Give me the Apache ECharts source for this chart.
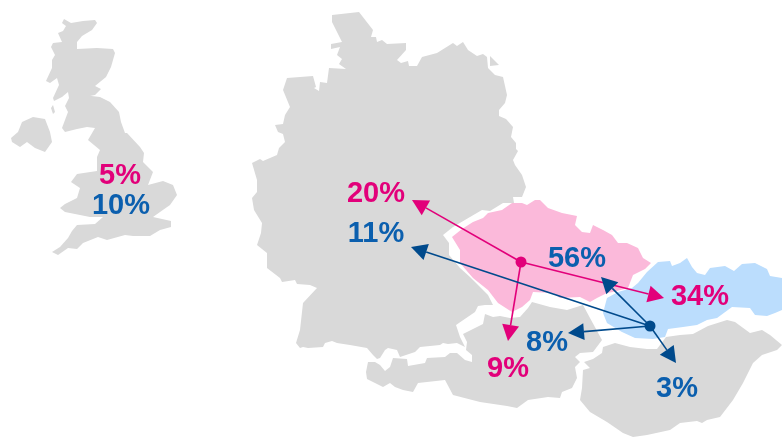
<!DOCTYPE html>
<html><head><meta charset="utf-8">
<style>html,body{margin:0;padding:0;background:#fff}#c{width:782px;height:437px}</style>
<script src="https://cdn.jsdelivr.net/npm/echarts@6/dist/echarts.min.js"></script>
</head><body><div id="c"></div>
<script>
// Country outlines, in picture units
const britain=[[64,19],[71,23],[83,21],[95,20],[97,23],[92,30],[82,36],[77,42],[77,49],[97,48],[113,49],[115,53],[111,67],[106,77],[95,86],[101,89],[95,95],[90,96],[83,95],[100,97],[110,102],[119,112],[121,122],[125,133],[127,133],[140,147],[144,153],[143,162],[153,172],[148,185],[163,181],[173,185],[177,195],[170,205],[160,212],[153,217],[171,221],[171,227],[160,230],[150,236],[133,236],[125,235],[107,240],[98,237],[83,243],[77,249],[68,248],[58,255],[52,252],[60,247],[68,238],[72,231],[77,225],[95,224],[103,217],[90,217],[80,215],[65,212],[60,208],[65,204],[77,198],[80,188],[71,182],[77,174],[97,171],[97,157],[100,150],[88,140],[95,128],[87,127],[77,129],[65,132],[62,128],[68,112],[65,106],[69,98],[68,92],[62,97],[54,101],[53,98],[59,85],[57,78],[50,83],[46,81],[52,68],[52,60],[55,55],[51,47],[53,43],[62,42],[58,33],[63,31],[66,26],[62,23]];
const isleOfMan=[[51,108],[53,105],[55,112],[53,114]];
const ireland=[[22,122],[33,117],[45,119],[50,132],[52,142],[45,152],[35,148],[27,142],[20,147],[12,142],[11,138],[18,132]];
const germany=[[332,15],[359,12],[373,30],[371,37],[376,37],[377,42],[382,40],[387,44],[406,43],[406,50],[397,60],[401,63],[408,61],[409,66],[417,66],[422,57],[437,53],[453,43],[457,46],[463,42],[468,50],[477,56],[483,54],[487,57],[488,68],[495,75],[503,77],[507,95],[505,103],[499,110],[499,116],[506,119],[513,127],[511,137],[516,143],[516,149],[518,151],[513,160],[515,165],[522,175],[526,187],[522,197],[513,197],[514,203],[503,203],[490,211],[482,210],[470,217],[453,227],[443,235],[449,243],[449,255],[460,268],[470,277],[488,295],[493,305],[485,305],[478,306],[475,312],[456,325],[460,337],[465,347],[457,343],[448,344],[443,343],[440,345],[420,347],[415,352],[400,357],[397,350],[388,348],[385,350],[380,358],[377,359],[373,355],[367,348],[350,345],[337,343],[332,341],[325,343],[323,347],[308,348],[303,347],[300,348],[296,343],[300,330],[303,303],[317,288],[310,285],[297,284],[295,280],[282,282],[280,278],[267,268],[267,253],[257,245],[261,233],[262,223],[254,210],[252,198],[257,192],[257,180],[252,163],[260,159],[263,161],[277,155],[279,148],[285,142],[283,134],[278,132],[275,125],[283,124],[285,115],[290,107],[283,90],[287,78],[313,76],[316,87],[314,88],[319,91],[320,82],[327,83],[329,68],[346,69],[339,64],[342,59],[337,55],[340,47],[331,49],[331,44],[342,42],[332,22]];
const ruegen=[[490,56],[499,65],[490,66]];
const austria=[[463,334],[483,324],[485,314],[493,317],[500,316],[510,318],[520,317],[528,308],[532,302],[550,307],[567,310],[583,305],[590,318],[602,340],[593,352],[580,353],[575,357],[580,362],[575,367],[577,378],[572,388],[562,392],[560,398],[548,397],[528,400],[517,408],[507,406],[480,402],[453,395],[445,380],[418,383],[413,392],[403,390],[395,387],[390,383],[383,387],[375,383],[367,379],[366,372],[368,362],[375,362],[380,365],[385,371],[390,367],[393,358],[407,359],[408,366],[425,363],[427,358],[445,357],[450,353],[457,353],[465,360],[472,362],[472,355],[466,350],[467,342]];
const hungary=[[593,359],[602,353],[603,347],[615,343],[630,347],[647,349],[657,349],[666,337],[680,335],[693,334],[708,326],[727,320],[735,322],[750,333],[762,330],[770,335],[782,345],[777,350],[762,355],[753,363],[743,383],[733,400],[720,417],[707,420],[702,423],[697,421],[680,423],[670,430],[647,435],[633,437],[623,433],[607,422],[590,412],[580,400],[582,388],[583,370],[590,368],[584,362]];
const czechia=[[452,237],[462,229],[473,222],[483,218],[488,213],[502,210],[512,203],[522,203],[527,205],[535,200],[540,200],[548,208],[562,213],[577,216],[575,225],[582,232],[590,233],[593,225],[603,230],[612,235],[618,243],[627,243],[638,248],[643,258],[651,263],[645,269],[633,275],[628,288],[613,292],[607,293],[597,298],[590,302],[580,297],[560,298],[553,293],[533,292],[530,300],[522,307],[512,312],[498,303],[488,290],[473,278],[460,263],[460,250]];
const slovakia=[[647,272],[658,262],[670,261],[672,266],[680,263],[687,258],[692,267],[697,273],[705,275],[710,268],[725,266],[734,271],[742,264],[755,263],[767,269],[770,276],[782,278],[782,310],[775,313],[767,316],[755,315],[750,308],[732,307],[717,318],[707,320],[697,325],[683,327],[668,329],[665,337],[653,339],[635,338],[622,332],[607,323],[603,313],[607,298],[618,292],[632,288],[638,283]];

const greyLands=[britain,isleOfMan,ireland,germany,ruegen,austria,hungary];
const pinkLands=[czechia];
const blueLands=[slovakia];

// Flows: origin and arrow tips
const pinkOrigin=[521,262];
const blueOrigin=[650,326];
const pinkTips=[[412,200],[664,298],[508,341]];
const blueTips=[[411,247],[601,277],[568,333],[676,363]];

// Percent labels
const pinkValues=[5,20,34,9];
const pinkLabelSpots=[[120,176],[376,194],[700,297],[508,369]];
const blueValues=[10,11,56,8,3];
const blueLabelSpots=[[121,206],[376,234],[577,259],[547,343],[677,389]];

const GREY='#d9d9d9',PINKFILL='#fbb9da',BLUEFILL='#bbddfd',PINK='#e2007a',BLUE='#0b5fae',NAVY='#004a8c';

function landSeries(list,color,z){
  return {type:'custom',coordinateSystem:'cartesian2d',silent:true,z:z,clip:false,
    data:list.map((_,i)=>[i,0]),encode:{x:0,y:1},
    renderItem:function(p,api){
      const pts=list[api.value(0)].map(q=>api.coord(q));
      return {type:'polygon',shape:{points:pts},style:{fill:color}};
    }};
}
function arrowSeries(origin,tips,color,z){
  return {type:'custom',coordinateSystem:'cartesian2d',silent:true,z:z,clip:false,
    data:tips.map(t=>[t[0],t[1]]),
    renderItem:function(p,api){
      const a=api.coord(origin),b=api.coord([api.value(0),api.value(1)]);
      const dx=b[0]-a[0],dy=b[1]-a[1],L=Math.hypot(dx,dy),ux=dx/L,uy=dy/L;
      const hl=16,hw=8.5,bx=b[0]-ux*hl,by=b[1]-uy*hl;
      return {type:'group',children:[
        {type:'line',shape:{x1:a[0],y1:a[1],x2:bx,y2:by},style:{stroke:color,lineWidth:1.6}},
        {type:'polygon',shape:{points:[b,[bx-uy*hw,by+ux*hw],[bx+uy*hw,by-ux*hw]]},style:{fill:color}}
      ]};
    }};
}
function dotSeries(origin,color,z){
  return {type:'scatter',silent:true,z:z,symbolSize:11,itemStyle:{color:color,opacity:1},data:[origin]};
}
function labelSeries(spots,values,color,z){
  return {type:'scatter',silent:true,z:z,symbolSize:1,itemStyle:{color:'rgba(0,0,0,0)',opacity:1},labelLayout:{hideOverlap:false},
    data:spots.map((s,i)=>[s[0],s[1],values[i]]),
    label:{show:true,position:'inside',opacity:1,color:color,fontFamily:'"Liberation Sans",Arial,sans-serif',fontWeight:'bold',fontSize:29,
      formatter:d=>d.value[2]+'%'}};
}

const chart=echarts.init(document.getElementById('c'),null,{renderer:'canvas'});
chart.setOption({
  animation:false,backgroundColor:'#fff',tooltip:{show:false},legend:{show:false},
  grid:{left:0,right:0,top:0,bottom:0},
  xAxis:{type:'value',min:0,max:782,show:false},
  yAxis:{type:'value',min:0,max:437,inverse:true,show:false},
  series:[
    landSeries(greyLands,GREY,1),
    landSeries(pinkLands,PINKFILL,2),
    landSeries(blueLands,BLUEFILL,2),
    arrowSeries(pinkOrigin,pinkTips,PINK,3),
    arrowSeries(blueOrigin,blueTips,NAVY,4),
    dotSeries(pinkOrigin,PINK,5),
    dotSeries(blueOrigin,NAVY,5),
    labelSeries(pinkLabelSpots,pinkValues,PINK,6),
    labelSeries(blueLabelSpots,blueValues,BLUE,6)
  ]
});
</script></body></html>
